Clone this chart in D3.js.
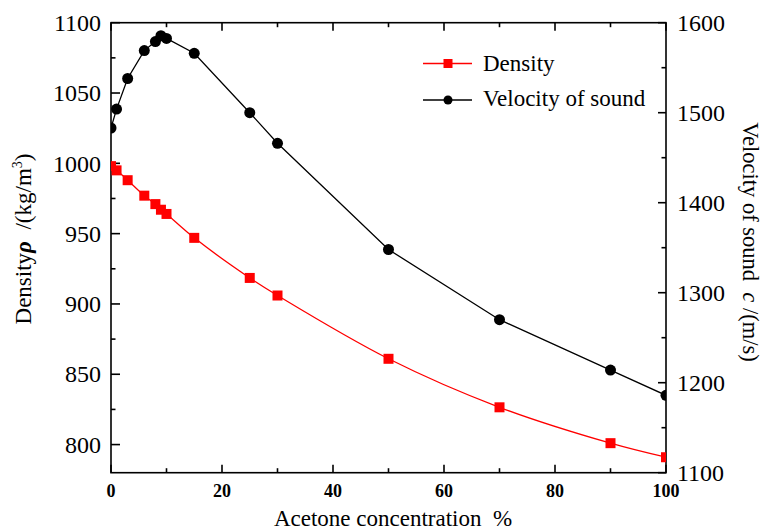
<!DOCTYPE html>
<html><head><meta charset="utf-8">
<script src="https://cdn.jsdelivr.net/npm/d3@7"></script>
<style>body{margin:0;background:#fff}svg{display:block}svg text{font-family:"Liberation Serif","Times New Roman",Times,serif}</style>
</head><body><svg id="c" width="764" height="532"></svg>
<script>
const concentration = [0, 1, 3, 6, 8, 9, 10, 15, 25, 30, 50, 70, 90, 100];
const density = [998, 995, 988, 977, 971, 967, 964, 947, 918.5, 906, 861, 826.5, 801, 791];
const velocity = [1483, 1504, 1538, 1569, 1579, 1585.5, 1582.5, 1566, 1500, 1466, 1348, 1270, 1214, 1186];
const xTicks = [0, 20, 40, 60, 80, 100];
const leftTicks = [800, 850, 900, 950, 1000, 1050, 1100];
const rightTicks = [1100, 1200, 1300, 1400, 1500, 1600];

const svg = d3.select("#c");
const L = 111, R = 666, T = 22.7, B = 472.7;
const x = d3.scaleLinear().domain([0, 100]).range([L, R]);
const yL = d3.scaleLinear().domain([780, 1100]).range([B, T]);
const yR = d3.scaleLinear().domain([1100, 1600]).range([B, T]);

svg.append("defs").append("clipPath").attr("id", "clip")
  .append("rect").attr("x", L).attr("y", T).attr("width", R - L).attr("height", B - T);

const ax = svg.append("g").attr("stroke", "#000").attr("stroke-width", 1.6);
d3.range(0, 101, 10).forEach(v => {
  const len = v % 20 === 0 ? 8 : 4.5;
  ax.append("line").attr("x1", x(v)).attr("x2", x(v)).attr("y1", B).attr("y2", B - len);
  ax.append("line").attr("x1", x(v)).attr("x2", x(v)).attr("y1", T).attr("y2", T + len);
});
d3.range(800, 1101, 25).forEach(v => {
  const len = v % 50 === 0 ? 9 : 4.5;
  ax.append("line").attr("x1", L).attr("x2", L + len).attr("y1", yL(v)).attr("y2", yL(v));
});
d3.range(1100, 1601, 50).forEach(v => {
  const len = v % 100 === 0 ? 8 : 4.5;
  ax.append("line").attr("x1", R).attr("x2", R - len).attr("y1", yR(v)).attr("y2", yR(v));
});
ax.append("rect").attr("x", L).attr("y", T).attr("width", R - L).attr("height", B - T).attr("fill", "none");

svg.append("g").selectAll("text").data(xTicks).join("text")
  .attr("x", d => x(d)).attr("y", 497).attr("text-anchor", "middle")
  .style("font-size", "18px").style("font-weight", "bold").text(d => d);
svg.append("g").selectAll("text").data(leftTicks).join("text")
  .attr("x", 101).attr("y", d => yL(d) + 8.2).attr("text-anchor", "end")
  .style("font-size", "24px").text(d => d);
svg.append("g").selectAll("text").data(rightTicks).join("text")
  .attr("x", 677).attr("y", d => yR(d) + 8.2).attr("text-anchor", "start")
  .style("font-size", "24px").text(d => d);

svg.append("text").attr("x", 393).attr("y", 526).attr("text-anchor", "middle")
  .style("font-size", "23px").text("Acetone concentration\u00a0 %");
const yt = svg.append("text").attr("transform", "translate(31,239) rotate(-90)")
  .attr("text-anchor", "middle").style("font-size", "23px");
yt.append("tspan").text("Density");
yt.append("tspan").style("font-weight", "bold").style("font-style", "italic").text("\u03c1");
yt.append("tspan").text("\u00a0 /(kg/m");
yt.append("tspan").style("font-size", "14px").attr("dy", -9).text("3");
yt.append("tspan").attr("dy", 9).text(")");
const rt = svg.append("text").attr("transform", "translate(743,242) rotate(90)")
  .attr("text-anchor", "middle").style("font-size", "22.5px");
rt.append("tspan").text("Velocity of sound\u00a0 ");
rt.append("tspan").style("font-style", "italic").text("c");
rt.append("tspan").text(" /(m/s)");

const plot = svg.append("g").attr("clip-path", "url(#clip)");
const lineD = d3.line().x((d, i) => x(concentration[i])).y(d => yL(d)).curve(d3.curveCatmullRom);
const lineV = d3.line().x((d, i) => x(concentration[i])).y(d => yR(d));
plot.append("path").attr("d", lineD(density)).attr("fill", "none").attr("stroke", "#ff0000").attr("stroke-width", 1.3);
plot.append("path").attr("d", lineV(velocity)).attr("fill", "none").attr("stroke", "#000").attr("stroke-width", 1.3);
const sq = 10;
plot.selectAll("rect.d").data(density).join("rect").attr("class", "d")
  .attr("x", (d, i) => x(concentration[i]) - sq / 2).attr("y", d => yL(d) - sq / 2)
  .attr("width", sq).attr("height", sq).attr("fill", "#ff0000");
plot.selectAll("circle.v").data(velocity).join("circle").attr("class", "v")
  .attr("cx", (d, i) => x(concentration[i])).attr("cy", d => yR(d)).attr("r", 5.5).attr("fill", "#000");

const lg = svg.append("g");
lg.append("line").attr("x1", 423).attr("x2", 472).attr("y1", 63.5).attr("y2", 63.5).attr("stroke", "#ff0000").attr("stroke-width", 1.3);
lg.append("rect").attr("x", 443.5).attr("y", 59).attr("width", 9).attr("height", 9).attr("fill", "#ff0000");
lg.append("text").attr("x", 483).attr("y", 71).style("font-size", "23px").text("Density");
lg.append("line").attr("x1", 423).attr("x2", 472).attr("y1", 100).attr("y2", 100).attr("stroke", "#000").attr("stroke-width", 1.3);
lg.append("circle").attr("cx", 448).attr("cy", 100).attr("r", 4.5).attr("fill", "#000");
lg.append("text").attr("x", 483).attr("y", 106).style("font-size", "23px").text("Velocity of sound");
</script></body></html>
